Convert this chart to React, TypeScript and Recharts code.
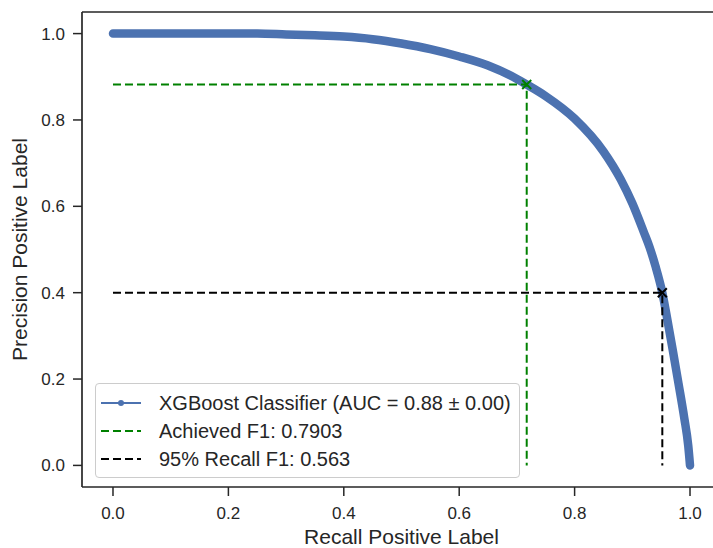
import { ComposedChart, Line, Scatter, XAxis, YAxis, ReferenceLine, Legend } from "recharts";

// values
const recall = [0, 0.05, 0.1, 0.15, 0.2, 0.25, 0.3, 0.35, 0.4, 0.45, 0.5, 0.55, 0.6, 0.65, 0.7, 0.717, 0.75, 0.8, 0.85, 0.88, 0.9, 0.92, 0.93, 0.94, 0.952, 0.96, 0.97, 0.98, 0.99, 0.997, 1.0];
const precision = [1.0, 1.0, 1.0, 1.0, 1.0, 1.0, 0.998, 0.996, 0.993, 0.987, 0.977, 0.964, 0.947, 0.926, 0.895, 0.882, 0.855, 0.803, 0.727, 0.662, 0.607, 0.54, 0.505, 0.462, 0.4, 0.343, 0.268, 0.19, 0.11, 0.045, 0.0];

const achievedPoint = { x: 0.717, y: 0.882 };
const recall95Point = { x: 0.952, y: 0.4 };

const ticks = [0, 0.2, 0.4, 0.6, 0.8, 1.0];

const legendLabels = ["XGBoost Classifier (AUC = 0.88 ± 0.00)", "Achieved F1: 0.7903", "95% Recall F1: 0.563"];

const BLUE = "#4c72b0";
const GREEN = "#008000";
const INK = "#262626";
const FONT = "'Liberation Sans', Arial, sans-serif";

const curve = recall.map((r, i) => ({ x: r, y: precision[i] }));
const guide = (p: { x: number; y: number }) => [
  { x: 0, y: p.y },
  { x: p.x, y: p.y },
  { x: p.x, y: 0 },
];

const XMark = (color: string) => (props: any) => {
  const { cx, cy } = props;
  const s = 4.5;
  return (
    <path
      d={`M${cx - s},${cy - s}L${cx + s},${cy + s}M${cx - s},${cy + s}L${cx + s},${cy - s}`}
      stroke={color}
      strokeWidth={2}
      fill="none"
    />
  );
};

function LegendBox() {
  const handles = [
    <g key="a">
      <line x1={0} x2={40} y1={6} y2={6} stroke={BLUE} strokeWidth={2} />
      <circle cx={20} cy={6} r={3} fill={BLUE} />
    </g>,
    <line key="b" x1={0} x2={40} y1={6} y2={6} stroke={GREEN} strokeWidth={2} strokeDasharray="8 4" />,
    <line key="c" x1={0} x2={40} y1={6} y2={6} stroke="#000" strokeWidth={2} strokeDasharray="8 4" />,
  ];
  return (
    <div
      style={{
        width: 425,
        height: 95,
        boxSizing: "border-box",
        border: "1px solid #cccccc",
        borderRadius: 4,
        background: "rgba(255,255,255,0.85)",
        fontFamily: FONT,
        fontSize: 20,
        color: INK,
        paddingTop: 5,
      }}
    >
      {legendLabels.map((label, i) => (
        <div key={label} style={{ display: "flex", alignItems: "center", height: 28, paddingLeft: 5 }}>
          <svg width={40} height={12} style={{ marginRight: 18 }}>
            {handles[i]}
          </svg>
          <span>{label}</span>
        </div>
      ))}
    </div>
  );
}

export default function App() {
  const tickStyle = { fontSize: 17, fill: INK, fontFamily: FONT };
  return (
    <div style={{ position: "absolute", left: 0, top: 0, width: 713, height: 548, overflow: "hidden", background: "#fff" }}>
      <ComposedChart width={730} height={548} margin={{ top: 12, right: 9, bottom: 0, left: 0 }}>
        <XAxis
          type="number"
          dataKey="x"
          domain={[-0.0537, 1.0537]}
          ticks={ticks}
          tickFormatter={(v: number) => v.toFixed(1)}
          height={61}
          tickSize={9}
          tickMargin={11}
          tick={tickStyle}
          axisLine={{ stroke: INK, strokeWidth: 1.7 }}
          tickLine={{ stroke: INK, strokeWidth: 1.5 }}
          allowDataOverflow
          label={{ value: "Recall Positive Label", position: "insideBottom", offset: 4, style: { fontSize: 21, fill: INK, fontFamily: FONT } }}
        />
        <YAxis
          type="number"
          dataKey="y"
          domain={[-0.05, 1.05]}
          ticks={ticks}
          tickFormatter={(v: number) => v.toFixed(1)}
          width={82}
          tickSize={9}
          tickMargin={8}
          tick={tickStyle}
          axisLine={{ stroke: INK, strokeWidth: 1.7 }}
          tickLine={{ stroke: INK, strokeWidth: 1.5 }}
          allowDataOverflow
          label={{
            value: "Precision Positive Label",
            angle: -90,
            position: "insideLeft",
            offset: 20,
            style: { fontSize: 21, fill: INK, fontFamily: FONT, textAnchor: "middle" },
          }}
        />
        <ReferenceLine y={1.05} stroke={INK} strokeWidth={1.7} />

        <Line
          data={curve}
          dataKey="y"
          type="monotoneX"
          stroke={BLUE}
          strokeWidth={8.5}
          strokeLinecap="round"
          strokeLinejoin="round"
          dot={false}
          activeDot={false}
          isAnimationActive={false}
          legendType="none"
        />
        <Line
          data={guide(achievedPoint)}
          dataKey="y"
          stroke={GREEN}
          strokeWidth={2}
          strokeDasharray="8 4"
          dot={false}
          activeDot={false}
          isAnimationActive={false}
          legendType="none"
        />
        <Line
          data={guide(recall95Point)}
          dataKey="y"
          stroke="#000"
          strokeWidth={2}
          strokeDasharray="8 4"
          dot={false}
          activeDot={false}
          isAnimationActive={false}
          legendType="none"
        />
        <Scatter data={[achievedPoint]} dataKey="y" shape={XMark(GREEN)} isAnimationActive={false} legendType="none" />
        <Scatter data={[recall95Point]} dataKey="y" shape={XMark("#000")} isAnimationActive={false} legendType="none" />

        <Legend
          layout="vertical"
          align="center"
          verticalAlign="middle"
          content={() => <LegendBox />}
          wrapperStyle={{ left: 95, top: 383, width: 425, height: 95 }}
        />
      </ComposedChart>
    </div>
  );
}
